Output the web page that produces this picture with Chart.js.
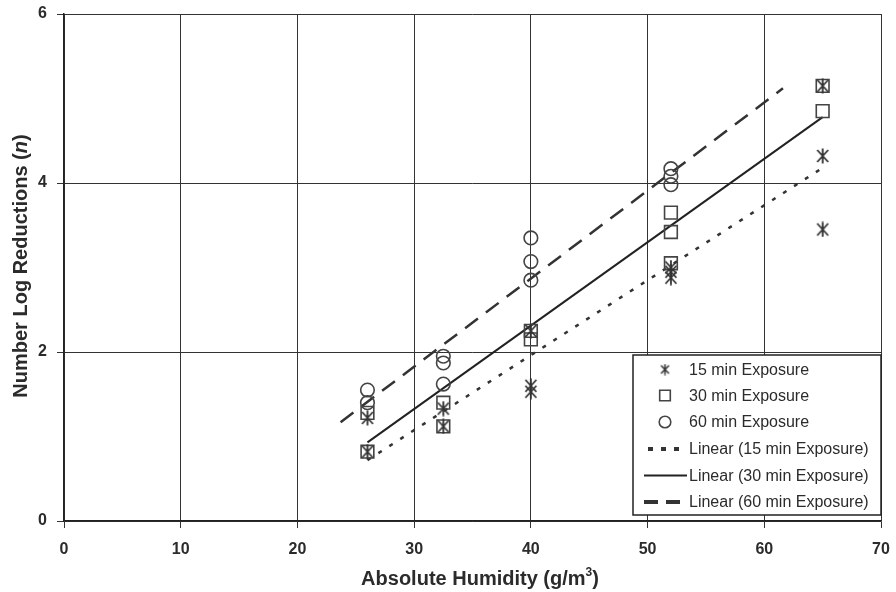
<!DOCTYPE html>
<html><head><meta charset="utf-8">
<script src="https://cdn.jsdelivr.net/npm/chart.js@4/dist/chart.umd.min.js"></script>
<style>html,body{margin:0;padding:0;background:#fff;}#wrap{width:896px;height:592px;}</style>
</head><body><div id="wrap"><canvas id="c" width="896" height="592"></canvas></div>
<script>
// ---- data ----
const xTicks = [0, 10, 20, 30, 40, 50, 60, 70];
const yTicks = [0, 2, 4, 6];

const x15 = [26, 26, 32.5, 32.5, 40, 40, 40, 52, 52, 52, 65, 65, 65];
const y15 = [0.82, 1.22, 1.33, 1.12, 2.25, 1.60, 1.53, 3.00, 2.95, 2.88, 5.15, 4.32, 3.45];

const x30 = [26, 26, 32.5, 32.5, 40, 40, 52, 52, 52, 65, 65];
const y30 = [0.82, 1.28, 1.40, 1.12, 2.25, 2.15, 3.65, 3.42, 3.05, 5.15, 4.85];

const x60 = [26, 26, 32.5, 32.5, 32.5, 40, 40, 40, 52, 52, 52];
const y60 = [1.55, 1.40, 1.95, 1.87, 1.62, 3.35, 3.07, 2.85, 4.17, 4.08, 3.98];

const trend15X = [26, 65], trend15Y = [0.72, 4.18];
const trend30X = [26, 65], trend30Y = [0.93, 4.78];
const trend60X = [23.7, 61.6], trend60Y = [1.17, 5.12];

const labels = ['15 min Exposure', '30 min Exposure', '60 min Exposure',
  'Linear (15 min Exposure)', 'Linear (30 min Exposure)', 'Linear (60 min Exposure)'];

const pts = (xs, ys) => xs.map((x, i) => ({x: x, y: ys[i]}));

function makeAsterisk(w, h, lw) {
  const c = document.createElement('canvas');
  c.width = w; c.height = h;
  const g = c.getContext('2d');
  g.strokeStyle = '#333'; g.lineWidth = lw;
  g.beginPath();
  g.moveTo(1.5, 2); g.lineTo(w - 1.5, h - 2);
  g.moveTo(w - 1.5, 2); g.lineTo(1.5, h - 2);
  g.moveTo(w / 2, 0.5); g.lineTo(w / 2, h - 0.5);
  g.stroke();
  return c;
}
const asterisk = makeAsterisk(14, 16, 1.8);
const asteriskSmall = makeAsterisk(11, 12, 1.5);

const INK = '#2b2b2b';
const FONT = "'Liberation Sans', Arial, sans-serif";

const datasets = [
  {type: 'scatter', label: labels[0], data: pts(x15, y15), pointStyle: asterisk, pointRadius: 7, borderColor: '#333', backgroundColor: 'transparent'},
  {type: 'scatter', label: labels[1], data: pts(x30, y30), pointStyle: 'rect', pointRadius: 9, borderWidth: 1.6, borderColor: '#444', backgroundColor: 'transparent'},
  {type: 'scatter', label: labels[2], data: pts(x60, y60), pointStyle: 'circle', pointRadius: 6.8, borderWidth: 1.6, borderColor: '#444', backgroundColor: 'transparent'},
  {type: 'line', label: labels[3], data: pts(trend15X, trend15Y), borderColor: '#333', borderWidth: 2.5, borderDash: [4, 9], pointRadius: 0, fill: false},
  {type: 'line', label: labels[4], data: pts(trend30X, trend30Y), borderColor: '#222', borderWidth: 2, pointRadius: 0, fill: false},
  {type: 'line', label: labels[5], data: pts(trend60X, trend60Y), borderColor: '#333', borderWidth: 2.5, borderDash: [16, 10], pointRadius: 0, fill: false}
];

const titlesPlugin = {
  id: 'titles',
  afterDraw(chart) {
    const ctx = chart.ctx;
    ctx.save();
    ctx.fillStyle = INK;
    const bold = 'bold 20px ' + FONT, sup = 'bold 12px ' + FONT;
    ctx.font = bold;
    const a = 'Absolute Humidity (g/m', b = ')';
    const wa = ctx.measureText(a).width, wb = ctx.measureText(b).width;
    ctx.font = sup; const ws = ctx.measureText('3').width;
    const total = wa + ws + wb;
    let x = 480 - total / 2; const base = 585;
    ctx.textBaseline = 'alphabetic'; ctx.textAlign = 'left';
    ctx.font = bold; ctx.fillText(a, x, base); x += wa;
    ctx.font = sup; ctx.fillText('3', x, base - 9); x += ws;
    ctx.font = bold; ctx.fillText(b, x, base);
    const p1 = 'Number Log Reductions (', p2 = 'n', p3 = ')';
    const it = 'italic bold 20px ' + FONT;
    ctx.font = bold; const w1 = ctx.measureText(p1).width, w3 = ctx.measureText(p3).width;
    ctx.font = it; const w2 = ctx.measureText(p2).width;
    const tw = w1 + w2 + w3;
    ctx.translate(27, 266);
    ctx.rotate(-Math.PI / 2);
    let tx = -tw / 2;
    ctx.font = bold; ctx.fillText(p1, tx, 0); tx += w1;
    ctx.font = it; ctx.fillText(p2, tx, 0); tx += w2;
    ctx.font = bold; ctx.fillText(p3, tx, 0);
    ctx.restore();
  }
};

const legendPlugin = {
  id: 'boxLegend',
  afterDraw(chart) {
    const ctx = chart.ctx;
    const L = 633, T = 355, R = 881, B = 515;
    const rows = [369.5, 395.5, 422, 449, 475.5, 502];
    ctx.save();
    ctx.fillStyle = '#fff';
    ctx.fillRect(L, T, R - L, B - T);
    ctx.strokeStyle = '#222'; ctx.lineWidth = 1.5;
    ctx.strokeRect(L, T, R - L, B - T);
    chart.data.datasets.forEach((ds, i) => {
      const y = rows[i];
      if (ds.type === 'scatter') {
        ctx.fillStyle = 'rgba(0,0,0,0)';
        ctx.strokeStyle = ds.borderColor;
        ctx.lineWidth = ds.borderWidth || 1.5;
        const style = (i === 0) ? asteriskSmall : ds.pointStyle;
        const r = (i === 1) ? 7.5 : 5.8;
        Chart.helpers.drawPoint(ctx, {pointStyle: style, radius: r, borderWidth: ds.borderWidth || 1.5}, 665, y);
      } else {
        ctx.beginPath();
        ctx.setLineDash(ds.borderDash ? (i === 3 ? [5, 8] : [14, 8]) : []);
        ctx.lineWidth = i === 4 ? 2 : 4;
        ctx.strokeStyle = ds.borderColor;
        ctx.moveTo(i === 3 ? 648 : 644, y); ctx.lineTo(687, y);
        ctx.stroke();
        ctx.setLineDash([]);
      }
      ctx.font = '16px ' + FONT;
      ctx.textBaseline = 'middle'; ctx.textAlign = 'left';
      ctx.fillStyle = INK;
      ctx.fillText(ds.label, 689, y + 1);
    });
    ctx.restore();
  }
};

new Chart(document.getElementById('c'), {
  data: {datasets: datasets},
  options: {
    responsive: false,
    animation: false,
    devicePixelRatio: 1,
    layout: {padding: {top: 14, right: 15, left: 0, bottom: 0}},
    plugins: {legend: {display: false}, tooltip: {enabled: false}},
    scales: {
      x: {
        type: 'linear', min: 0, max: 70,
        afterBuildTicks: s => { s.ticks = xTicks.map(v => ({value: v})); },
        afterFit: s => { s.height = 71; s.paddingLeft = 0; s.paddingRight = 0; },
        grid: {color: '#333', lineWidth: 1, tickLength: 7, drawTicks: true},
        border: {color: '#222', width: 1.5},
        ticks: {color: INK, font: {family: FONT, size: 16, weight: 'bold'}, padding: 12, maxRotation: 0}
      },
      y: {
        type: 'linear', min: 0, max: 6,
        afterBuildTicks: s => { s.ticks = yTicks.map(v => ({value: v})); },
        afterFit: s => { s.width = 64; s.paddingTop = 0; s.paddingBottom = 0; },
        grid: {color: '#333', lineWidth: 1, tickLength: 7, drawTicks: true},
        border: {color: '#222', width: 1.5},
        ticks: {color: INK, font: {family: FONT, size: 16, weight: 'bold'}, padding: 10}
      }
    }
  },
  plugins: [titlesPlugin, legendPlugin]
});
</script>
</body></html>
